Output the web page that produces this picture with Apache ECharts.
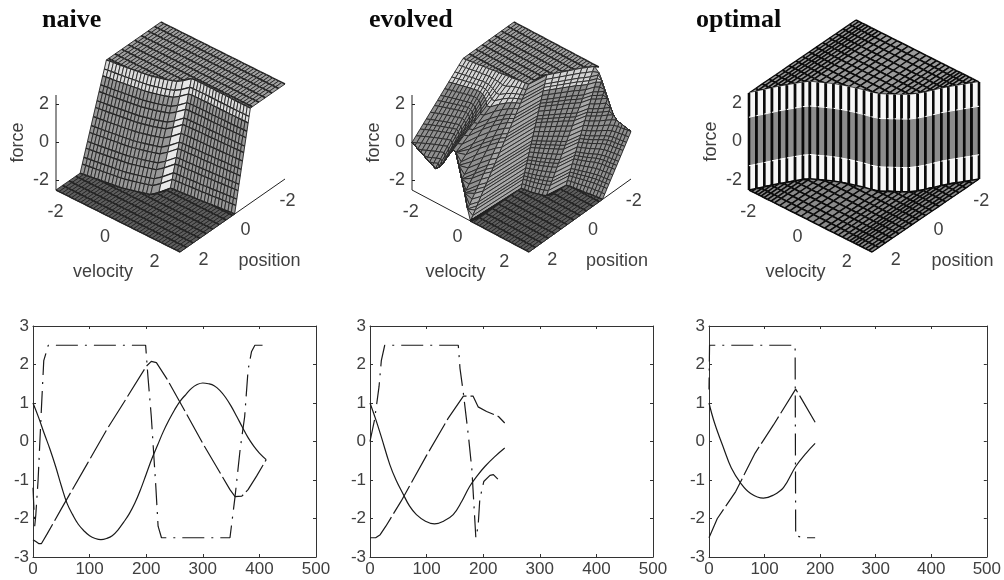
<!DOCTYPE html>
<html><head><meta charset="utf-8">
<style>html,body{margin:0;padding:0;background:#fff}#c{width:1004px;height:580px}</style>
<script src="https://cdn.jsdelivr.net/npm/echarts@6/dist/echarts.min.js"></script>
</head><body><div id="c"></div>
<script>
// ---------- surface data ----------
const velocityRows = [-2.5,-2.375,-2.25,-2.125,-2,-1.875,-1.75,-1.625,-1.5,-1.375,-1.25,-1.125,-1,-.875,-.75,-.625,-.5,-.375,-.25,-.125,0,.125,.25,.375,.5,.625,.75,.875,1,1.125,1.25,1.375,1.5,1.625,1.75,1.875,2,2.125,2.25,2.375,2.5];
const optimalRows = [-2.5,-2.38,-2.25,-2.13,-2.01,-1.88,-1.74,-1.6,-1.46,-1.25,-1.04,-.83,-.62,-.38,-.15,.1,.35,.58,.78,.96,1.13,1.3,1.47,1.6,1.72,1.84,1.96,2.1,2.24,2.37,2.5];
const positionLines = [-2.5,-2.19,-1.88,-1.56,-1.25,-.94,-.63,-.31,0,.31,.63,.94,1.25,1.56,1.88,2.19,2.5];
const tickValues = [-2,0,2];
// position where force leaves +2.5 (upper) and reaches -2.5 (lower), per velocity row
const naiveUpper = [.1,.08,.06,.05,.03,.01,-.01,-.03,-.05,-.07,-.09,-.11,-.13,-.16,-.2,-.24,-.28,-.33,-.39,-.45,-.6,-.85,-.87,-.87,-.87,-.87,-.87,-.87,-.87,-.86,-.86,-.86,-.86,-.86,-.85,-.85,-.85,-.85,-.85,-.85,-.85];
const naiveLower = [1.35,1.33,1.31,1.29,1.27,1.25,1.23,1.21,1.19,1.17,1.15,1.13,1.1,1.06,1.02,.98,.94,.89,.85,.8,.55,.15,.13,.12,.11,.1,.08,.07,.06,.05,.04,.02,.01,0,-.02,-.04,-.05,-.06,-.08,-.09,-.1];
const evolvedUpper = [0,-.02,-.04,-.05,-.07,-.09,-.11,-.12,-.14,-.16,-.18,-.19,-.21,-.23,-.25,-.26,-.28,-.3,-.32,-.33,-.35,-1.1,-1.3,-1.5,-1.7,-1.9,-2.1,-2.25,-2.43,-2.6,-2.72,-2.9,-3.1,-3.35,-3.6,-3.74,-3.79,-3.81,-3.84,-3.87,-3.9];
const evolvedLower = [5,4.85,4.7,4.55,4.42,4.3,4.18,4.07,3.96,4.15,4.45,4.95,5.68,6.5,7.6,7.4,5.51,4.3,3.5,2.85,2.5,.16,.14,.12,.1,.07,.03,-.01,-.08,-.9,-.93,-.95,-.97,-.99,-1,-1.02,-1.05,-1.06,-1.08,-1.09,-1.1];
const optimalSwitch = [2.5,2.29,2.07,1.85,1.64,1.44,1.22,1.01,.85,.72,.59,.47,.37,.27,.19,.11,.05,-.04,-.19,-.33,-.46,-.6,-.82,-1.03,-1.26,-1.5,-1.69,-1.9,-2.11,-2.3,-2.5];
const contourLevels = [2.5,2.1,1.8,1.4,1.1,.7,.4,0,-.4,-.7,-1.1,-1.4,-1.8,-2.1,-2.5];
const evolvedLevels = [2.5,2.3,2.1,1.95,1.8,1.6,1.4,1.25,1.1,.9,.7,.55,.4,.2,0,-.2,-.4,-.55,-.7,-.9,-1.1,-1.25,-1.4,-1.6,-1.8,-1.95,-2.1,-2.3,-2.5];
const optimalBands = [2.5,1.25,-1.25,-2.5];
const panelTitles = ['naive','evolved','optimal'];

// ---------- trajectories: [time, value] ----------
const naivePosition = [[0,1],[10,.62],[20,.2],[30,-.2],[40,-.65],[50,-1.15],[60,-1.6],[70,-1.9],[80,-2.15],[90,-2.32],[100,-2.45],[110,-2.52],[120,-2.55],[130,-2.52],[140,-2.45],[150,-2.3],[160,-2.1],[170,-1.88],[180,-1.6],[190,-1.25],[200,-.85],[210,-.45],[220,-.1],[230,.25],[240,.55],[250,.82],[260,1.05],[270,1.22],[280,1.38],[290,1.48],[300,1.52],[310,1.5],[320,1.45],[330,1.33],[340,1.15],[350,.92],[360,.65],[370,.37],[380,.1],[390,-.12],[400,-.3],[412,-.47]];
const naiveVelocity = [[0,-2.55],[5,-2.6],[10,-2.65],[15,-2.65],[25,-2.4],[50,-1.75],[95,-.6],[130,.3],[165,1.12],[200,1.95],[209,2.08],[218,2.05],[236,1.64],[270,.75],[300,-.05],[348,-1.25],[357,-1.43],[369,-1.42],[380,-1.25],[395,-.9],[412,-.47]];
const naiveForce = [[0,-1.2],[3,-2.2],[5,-1.9],[9,-1],[15,.9],[19,2.1],[27,2.5],[199,2.5],[203,1.7],[209,.65],[217,-1.17],[221,-2.2],[227,-2.5],[348,-2.5],[357,-1.43],[366,-.2],[374,.65],[380,1.86],[386,2.33],[392,2.5],[412,2.5]];
const evolvedPosition = [[0,1],[10,.58],[20,.12],[35,-.6],[46,-1],[58,-1.35],[70,-1.68],[82,-1.9],[98,-2.07],[114,-2.14],[130,-2.07],[147,-1.9],[162,-1.56],[176,-1.17],[190,-.88],[203,-.65],[220,-.4],[238,-.17]];
const evolvedVelocity = [[0,-2.5],[10,-2.5],[18,-2.42],[28,-2.2],[55,-1.55],[100,-.36],[138,.6],[165,1.18],[182,1.18],[191,.9],[206,.78],[227,.65],[238,.48]];
const evolvedForce = [[0,0],[8,.56],[16,1.43],[20,2.1],[26,2.5],[156,2.5],[159,1.9],[165,1.25],[174,.13],[180,-.73],[187,-2.5],[191,-2.2],[194,-1.5],[201,-1.04],[212,-.88],[218,-.86],[230,-1.04]];
const optimalPosition = [[0,1],[10,.48],[27,-.2],[40,-.68],[57,-1.08],[75,-1.35],[98,-1.47],[115,-1.4],[134,-1.2],[156,-.65],[175,-.3],[191,-.05]];
const optimalVelocity = [[0,-2.5],[15,-2],[48,-1.3],[83,-.3],[116,.43],[156,1.36],[166,1.12],[191,.5]];
const optimalForce = [[0,1.35],[1,2.5],[155,2.5],[156,-2.45],[172,-2.5],[191,-2.5]];

// ---------- presentation ----------
const TEXT = '#404040';
const FONT3D = '18px "Liberation Sans", Arial, sans-serif';
const views = [
 {ox:56, oy:190,ux:124,uy:62,wx:105,wy:-73,h:95,rows:velocityRows,upper:naiveUpper,lower:naiveLower,levels:contourLevels,
  top:'#a0a0a0',floor:'#5e5e5e',wall:'#989898',wallHi:'#dcdcdc',hiBands:2,notch:'#e8e8e8',line:'#222',vw:.9,
  pw:1.5,lvw:1.2,midBand:-1},
 {ox:412,oy:190,ux:117,uy:62,wx:102,wy:-73,h:95,rows:velocityRows,upper:evolvedUpper,lower:evolvedLower,levels:evolvedLevels,
  top:'#a0a0a0',floor:'#5e5e5e',wall:'#909090',wallHi:'#d4d4d4',hiBands:4,notch:'#a8a8a8',line:'#222',vw:.9,
  pw:1.5,lvw:.9,midBand:-1},
 {ox:749,oy:190,ux:123,uy:62,wx:107,wy:-73,h:97,rows:optimalRows,upper:optimalSwitch,lower:optimalSwitch,levels:optimalBands,
  top:'#9a9a9a',floor:'#8a8a8a',wall:'#f6f6f6',wallHi:'#f6f6f6',hiBands:0,notch:null,line:'#0a0a0a',vw:1.4,
  pw:1.6,lvw:0,midBand:1,midFill:'#8c8c8c',wallV:2.6,midLines:[1.25,-1.25]}
];
function project(P,v,p,f){
  const a=(v+2.5)/5,b=(2.5-p)/5,c=(f+2.5)/5;
  return [P.ox+a*P.ux+b*P.wx, P.oy+a*P.uy+b*P.wy-c*P.h];
}
const clampP=(q)=>Math.max(-2.5,Math.min(2.5,q));
function wallPoint(up,low,f){
  const t=(2.5-f)/5; let p=up+(low-up)*t, g=f;
  if(p>2.5){ p=2.5; g=2.5-5*(2.5-up)/(low-up); }
  else if(p<-2.5){ p=-2.5; g=2.5-5*(-2.5-up)/(low-up); }
  return [p,g];
}
function buildFacets(P){
  const out=[],R=P.rows;
  for(let i=0;i<R.length-1;i++){
    const v0=R[i],v1=R[i+1];
    const u0=P.upper[i],u1=P.upper[i+1],l0=P.lower[i],l1=P.lower[i+1];
    for(let j=0;j<positionLines.length-1;j++){
      const a=positionLines[j],b=positionLines[j+1];
      const a0=Math.min(a,clampP(u0)),b0=Math.min(b,clampP(u0)),a1=Math.min(a,clampP(u1)),b1=Math.min(b,clampP(u1));
      if(b0-a0<1e-6&&b1-a1<1e-6)continue;
      out.push({c:[[v0,a0,2.5],[v0,b0,2.5],[v1,b1,2.5],[v1,a1,2.5]],fill:P.top,vw:P.vw,cw:P.pw});
    }
    const steep=P.notch&&Math.abs(l1-l0)>.25&&l0<3;
    for(let k=0;k<P.levels.length-1;k++){
      const A0=wallPoint(u0,l0,P.levels[k]),B0=wallPoint(u0,l0,P.levels[k+1]);
      const A1=wallPoint(u1,l1,P.levels[k]),B1=wallPoint(u1,l1,P.levels[k+1]);
      let fill=k<P.hiBands?P.wallHi:P.wall;
      if(k===P.midBand)fill=P.midFill;
      if(steep)fill=P.notch;
      out.push({c:[[v0,A0[0],A0[1]],[v0,B0[0],B0[1]],[v1,B1[0],B1[1]],[v1,A1[0],A1[1]]],fill,vw:P.wallV||P.vw,cw:P.lvw});
    }
    if(P.midLines){
      const hi=P.midLines[0],lo=P.midLines[1];
      out.push({lineOnly:true,c:[[v0,u0,hi],[v0,u0,lo],[v1,u1,lo],[v1,u1,hi]],vw:1.7});
      out.push({borderOnly:true,c:[[v0,u0,hi],[v1,u1,hi]],stroke:'#ffffff',w:1});
      out.push({borderOnly:true,c:[[v0,u0,lo],[v1,u1,lo]],stroke:'#ffffff',w:1});
    }
    for(let j=0;j<positionLines.length-1;j++){
      const a=positionLines[j],b=positionLines[j+1];
      const a0=Math.max(a,clampP(l0)),b0=Math.max(b,clampP(l0)),a1=Math.max(a,clampP(l1)),b1=Math.max(b,clampP(l1));
      if(b0-a0<1e-6&&b1-a1<1e-6)continue;
      out.push({c:[[v0,a0,-2.5],[v0,b0,-2.5],[v1,b1,-2.5],[v1,a1,-2.5]],fill:P.floor,vw:P.vw,cw:P.pw});
    }
  }
  return out;
}
function surfaceSeries(P){
  const facets=buildFacets(P);
  return {type:'custom',xAxisIndex:6,yAxisIndex:6,silent:true,animation:false,progressive:0,clip:false,
    data:facets.map((f,i)=>[i,i]),
    renderItem(params,api){
      const f=facets[params.dataIndex];
      const pts=f.c.map(q=>api.coord(project(P,q[0],q[1],q[2])));
      const seg=(a,b,w,col)=>({type:'line',silent:true,shape:{x1:pts[a][0],y1:pts[a][1],x2:pts[b][0],y2:pts[b][1]},style:{stroke:col||P.line,lineWidth:w}});
      if(f.borderOnly)return seg(0,1,f.w,f.stroke);
      const ch=[];
      if(!f.lineOnly)ch.push({type:'polygon',silent:true,shape:{points:pts},style:{fill:f.fill,stroke:f.fill,lineWidth:.3}});
      ch.push(seg(0,1,f.vw),seg(3,2,f.vw));
      if(f.cw>0)ch.push(seg(0,3,f.cw),seg(1,2,f.cw));
      return {type:'group',children:ch};
    }};
}
function axesSeries(P){
  const seg=(api,a,b)=>{const s=api.coord(project(P,...a)),e=api.coord(project(P,...b));
    return {type:'line',shape:{x1:s[0],y1:s[1],x2:e[0],y2:e[1]},style:{stroke:'#222',lineWidth:1}};};
  const txt=(api,pt,dx,dy,text,extra)=>{const s=api.coord(project(P,...pt));
    return Object.assign({type:'text',x:s[0]+dx,y:s[1]+dy,style:{text,fill:TEXT,font:FONT3D,align:'center',verticalAlign:'middle'}},extra||{});};
  return {type:'custom',xAxisIndex:6,yAxisIndex:6,silent:true,animation:false,clip:false,data:[[0,0]],
    renderItem(params,api){
      const ch=[seg(api,[-2.5,2.5,-2.5],[-2.5,2.5,2.5]),seg(api,[-2.5,2.5,-2.5],[2.5,2.5,-2.5]),seg(api,[2.5,2.5,-2.5],[2.5,-2.5,-2.5])];
      tickValues.forEach(t=>{
        const s=api.coord(project(P,-2.5,2.5,t));
        ch.push({type:'line',shape:{x1:s[0],y1:s[1],x2:s[0]+3,y2:s[1]},style:{stroke:'#222',lineWidth:1}});
        const lab=txt(api,[-2.5,2.5,t],-7,0,String(t)); lab.style.align='right'; ch.push(lab);
        ch.push(txt(api,[t,2.5,-2.5],-13,16,String(t)));
        ch.push(txt(api,[2.5,t,-2.5],13,15,String(t)));
      });
      ch.push(txt(api,[-2.5,2.5,0],-38,0,'force',{rotation:Math.PI/2}));
      ch.push(txt(api,[0,2.5,-2.5],-15,51,'velocity'));
      ch.push(txt(api,[2.5,0,-2.5],37,46,'position'));
      return {type:'group',children:ch};
    }};
}
const grids=[{left:33,top:326,width:283,height:231},{left:370,top:326,width:283,height:231},{left:709,top:326,width:282,height:231},{left:0,top:0,width:1004,height:580}];
const xAxes=[],yAxes=[],series=[];
const common={axisLine:{show:true,onZero:false,lineStyle:{color:'#333',width:1}},splitLine:{show:false},
  axisTick:{show:true,inside:true,length:3,lineStyle:{color:'#333'}}};
const labelStyle={color:TEXT,fontFamily:'"Liberation Sans", Arial, sans-serif',fontSize:17};
[0,1,2].forEach(g=>{
  xAxes.push(Object.assign({type:'value',gridIndex:g,min:0,max:500,interval:100,position:'bottom',axisLabel:Object.assign({margin:4,hideOverlap:false},labelStyle)},common));
  xAxes.push(Object.assign({type:'value',gridIndex:g,min:0,max:500,interval:100,position:'top',axisLabel:{show:false}},common));
  yAxes.push(Object.assign({type:'value',gridIndex:g,min:-3,max:3,interval:1,position:'left',axisLabel:Object.assign({margin:4},labelStyle)},common));
  yAxes.push(Object.assign({type:'value',gridIndex:g,min:-3,max:3,interval:1,position:'right',axisLabel:{show:false}},common));
});
xAxes.push({type:'value',gridIndex:3,min:0,max:1004,show:false});
yAxes.push({type:'value',gridIndex:3,min:0,max:580,inverse:true,show:false});
const solid='solid',longDash=[32,4],dashDot=[22,7,2,7];
const dashOffsets=[0,0,10];
const lineSets=[[naivePosition,naiveVelocity,naiveForce],[evolvedPosition,evolvedVelocity,evolvedForce],[optimalPosition,optimalVelocity,optimalForce]];
lineSets.forEach((set,g)=>{
  [solid,longDash,dashDot].forEach((type,k)=>{
    series.push({type:'line',xAxisIndex:g*2,yAxisIndex:g*2,data:set[k],showSymbol:false,silent:true,animation:false,
      smooth:k===0?.4:false,lineStyle:{color:'#1a1a1a',width:1.2,type,dashOffset:k===2?dashOffsets[g]:0}});
  });
});
views.forEach(P=>{series.push(axesSeries(P));series.push(surfaceSeries(P));});
const chart=echarts.init(document.getElementById('c'),null,{renderer:'canvas'});
chart.setOption({animation:false,backgroundColor:'#fff',
  title:panelTitles.map((t,i)=>({text:t,left:[42,369,696][i],top:7,padding:0,
    textStyle:{fontFamily:'"Liberation Serif","Times New Roman",serif',fontWeight:'bold',fontSize:26,color:'#0a0a0a'}})),
  grid:grids,xAxis:xAxes,yAxis:yAxes,series});
</script></body></html>
